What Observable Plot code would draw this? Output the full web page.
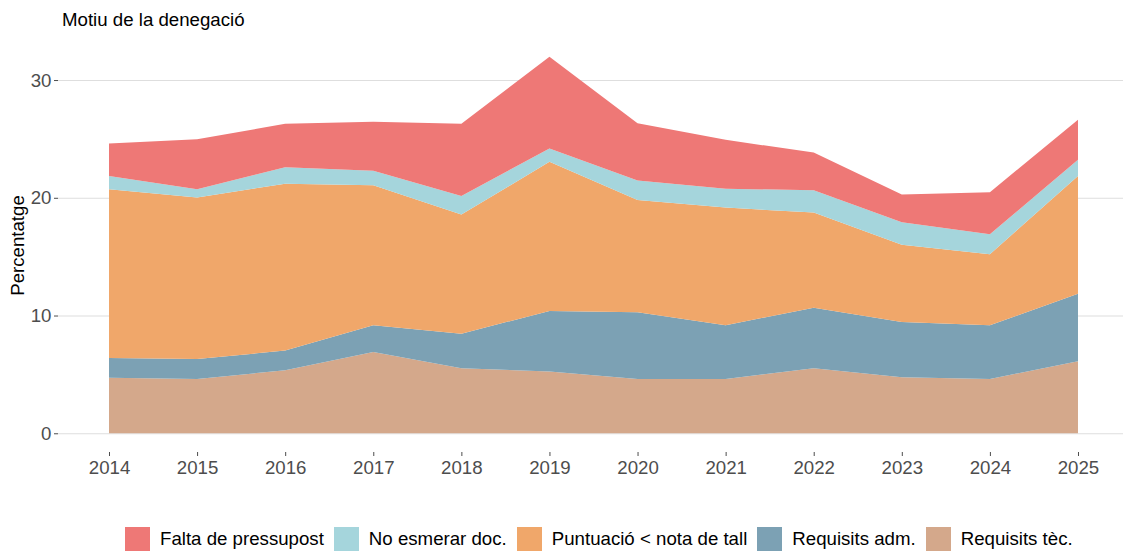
<!DOCTYPE html>
<html>
<head>
<meta charset="utf-8">
<script src="https://cdn.jsdelivr.net/npm/d3@7"></script>
<script src="https://cdn.jsdelivr.net/npm/@observablehq/plot@0.6"></script>
<style>
  html, body { margin: 0; padding: 0; background: #fff; }
  #wrap { position: relative; width: 1123px; height: 551px; overflow: hidden; font-family: "Liberation Sans", Arial, sans-serif; }
  #title { position: absolute; left: 62px; top: 9px; font-size: 18.67px; color: #000; white-space: nowrap; }
  #ylab { position: absolute; left: -83px; top: 234.5px; width: 200px; line-height: 21px; text-align: center; font-size: 18.67px; color: #000; transform: rotate(-90deg); white-space: nowrap; }
  #chart { position: absolute; left: 0; top: 0; }
  #legend { position: absolute; left: 125px; top: 527px; display: flex; align-items: center; font-size: 18.67px; color: #000; white-space: nowrap; }
  .sw { width: 25px; height: 24px; margin-right: 10px; }
  .lb { margin-right: 10px; line-height: 24px; }
</style>
</head>
<body>
<div id="wrap">
  <div id="chart"></div>
  <div id="title">Motiu de la denegació</div>
  <div id="ylab">Percentatge</div>
  <div id="legend"></div>
</div>
<script>
// ---- data ----
const years = [2014, 2015, 2016, 2017, 2018, 2019, 2020, 2021, 2022, 2023, 2024, 2025];
const seriesNames = ["Falta de pressupost", "No esmerar doc.", "Puntuació < nota de tall", "Requisits adm.", "Requisits tèc."];
const seriesColors = ["#EE7876", "#A5D5DC", "#F0A76A", "#7CA1B4", "#D4A88B"];
const faltaPressupost = [2.74, 4.25, 3.68, 4.16, 6.12, 7.80, 4.88, 4.16, 3.19, 2.34, 3.57, 3.40];
const noEsmerar       = [1.13, 0.71, 1.40, 1.22, 1.59, 1.13, 1.64, 1.59, 1.91, 1.91, 1.70, 1.38];
const puntuacio       = [14.33, 13.71, 14.18, 11.90, 10.11, 12.66, 9.54, 10.00, 8.07, 6.56, 6.04, 10.00];
const requisitsAdm    = [1.68, 1.70, 1.67, 2.26, 2.94, 5.15, 5.67, 4.56, 5.15, 4.70, 4.56, 5.72];
const requisitsTec    = [4.72, 4.61, 5.35, 6.91, 5.52, 5.24, 4.61, 4.61, 5.52, 4.76, 4.61, 6.12];
const yTicks = [0, 10, 20, 30];

// bottom-to-top stacking order
const stackOrder = ["Requisits tèc.", "Requisits adm.", "Puntuació < nota de tall", "No esmerar doc.", "Falta de pressupost"];
const valuesBySeries = {
  "Falta de pressupost": faltaPressupost,
  "No esmerar doc.": noEsmerar,
  "Puntuació < nota de tall": puntuacio,
  "Requisits adm.": requisitsAdm,
  "Requisits tèc.": requisitsTec
};
const data = [];
for (const s of stackOrder) {
  years.forEach((yr, i) => data.push({year: yr, series: s, value: valuesBySeries[s][i]}));
}

const chart = Plot.plot({
  width: 1123,
  height: 500,
  marginLeft: 58,
  marginRight: 0,
  marginTop: 38,
  marginBottom: 48,
  style: {fontFamily: '"Liberation Sans", Arial, sans-serif', fontSize: "18.67px", background: "transparent"},
  x: {domain: [2013.421, 2025.511], label: null},
  y: {domain: [-1.59, 33.57], label: null},
  color: {domain: seriesNames, range: seriesColors},
  marks: [
    Plot.gridY(yTicks, {stroke: "#DEDEDE", strokeOpacity: 1, strokeWidth: 1.1}),
    Plot.areaY(data, {x: "year", y: "value", z: "series", fill: "series", order: stackOrder}),
    Plot.axisY(yTicks, {tickSize: 4, tickPadding: 3, fontSize: 18.67, color: "#4D4D4D", label: null}),
    Plot.axisX(years, {tickSize: 4, tickPadding: 4, fontSize: 18.67, color: "#4D4D4D", tickFormat: d => String(d), label: null})
  ]
});
document.getElementById("chart").appendChild(chart);

// legend
const legend = document.getElementById("legend");
seriesNames.forEach((name, i) => {
  const sw = document.createElement("div");
  sw.className = "sw";
  sw.style.background = seriesColors[i];
  const lb = document.createElement("div");
  lb.className = "lb";
  lb.textContent = name;
  legend.appendChild(sw);
  legend.appendChild(lb);
});
</script>
</body>
</html>
